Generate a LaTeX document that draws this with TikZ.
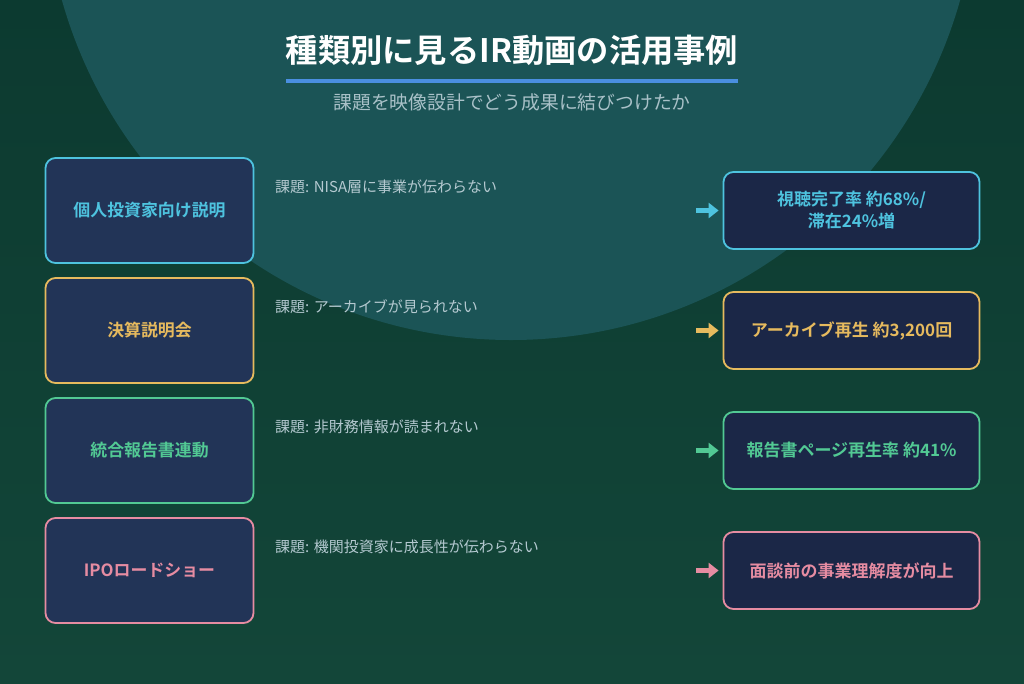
\documentclass[tikz,border=0pt]{standalone}
\usepackage{fontspec}
\setmainfont{Noto Sans CJK JP}
\newfontfamily\jpb{Noto Sans CJK JP Bold}
\usetikzlibrary{arrows.meta,shadings}
\definecolor{bgtop}{HTML}{0C3A30}
\definecolor{bgbot}{HTML}{134639}
\definecolor{circ}{HTML}{1B5456}
\definecolor{lfill}{HTML}{223457}
\definecolor{rfill}{HTML}{1B2747}
\definecolor{ccyan}{HTML}{4EC3DF}
\definecolor{cgold}{HTML}{E6BA5E}
\definecolor{cgreen}{HTML}{52C994}
\definecolor{cpink}{HTML}{E68CA2}
\definecolor{ctext}{HTML}{B4C9D0}
\definecolor{csub}{HTML}{A9C1C8}
\definecolor{cline}{HTML}{4A8FE0}
\tikzset{
  x=1pt,y=-1pt,
  leftbox/.style={draw=#1,fill=lfill,line width=1.8pt,rounded corners=10pt,minimum width=208pt,minimum height=105pt,text=#1,font=\jpb\fontsize{16.9}{20}\selectfont,align=center,inner sep=0pt},
  rightbox/.style={draw=#1,fill=rfill,line width=1.8pt,rounded corners=10pt,minimum width=256pt,minimum height=77pt,text=#1,font=\jpb\fontsize{17}{22}\selectfont,align=center,inner sep=0pt},
  challenge/.style={anchor=base west,text=ctext,font=\fontsize{15}{18}\selectfont,inner sep=0pt},
  arr/.style={draw=#1,line width=5.5pt,-{Triangle[length=10pt,width=15pt]},shorten >=4pt}
}
\begin{document}
\begin{tikzpicture}
\useasboundingbox (0,0) rectangle (1024,683);
\shade[top color=bgtop,bottom color=bgbot] (0,0) rectangle (1024,683);
\begin{scope}
\clip (0,0) rectangle (1024,683);
\fill[circ] (511,-126.5) circle (466.5);
\end{scope}
% title
\node[text=white,font=\jpb\fontsize{32.3}{36}\selectfont,inner sep=0pt] (title) at (512,50) {種類別に見るIR動画の活用事例};
\draw[cline,line width=4pt] (286,80.5) -- (738,80.5);
\node[text=csub,font=\fontsize{18.8}{22}\selectfont,inner sep=0pt] (sub) at (512,102.5) {課題を映像設計でどう成果に結びつけたか};
% rows
\node[leftbox=ccyan] (l1) at (149.5,210.5) {個人投資家向け説明};
\node[leftbox=cgold] (l2) at (149.5,330.5) {決算説明会};
\node[leftbox=cgreen] (l3) at (149.5,450.5) {統合報告書連動};
\node[leftbox=cpink] (l4) at (149.5,570.5) {IPOロードショー};
\node[challenge] (c1) at (275,192.5) {課題: NISA層に事業が伝わらない};
\node[challenge] (c2) at (275,312.5) {課題: アーカイブが見られない};
\node[challenge] (c3) at (275,432.5) {課題: 非財務情報が読まれない};
\node[challenge] (c4) at (275,552.5) {課題: 機関投資家に成長性が伝わらない};
\node[rightbox=ccyan] (r1) at (851.5,210.5) {視聴完了率 約68\%/\\滞在24\%増};
\node[rightbox=cgold] (r2) at (851.5,330.5) {アーカイブ再生 約3,200回};
\node[rightbox=cgreen] (r3) at (851.5,450.5) {報告書ページ再生率 約41\%};
\node[rightbox=cpink] (r4) at (851.5,570.5) {面談前の事業理解度が向上};
\coordinate (a1) at (696,210.5);
\coordinate (a2) at (696,330.5);
\coordinate (a3) at (696,450.5);
\coordinate (a4) at (696,570.5);
\draw[arr=ccyan] (a1) -- (r1.west);
\draw[arr=cgold] (a2) -- (r2.west);
\draw[arr=cgreen] (a3) -- (r3.west);
\draw[arr=cpink] (a4) -- (r4.west);
\end{tikzpicture}
\end{document}
